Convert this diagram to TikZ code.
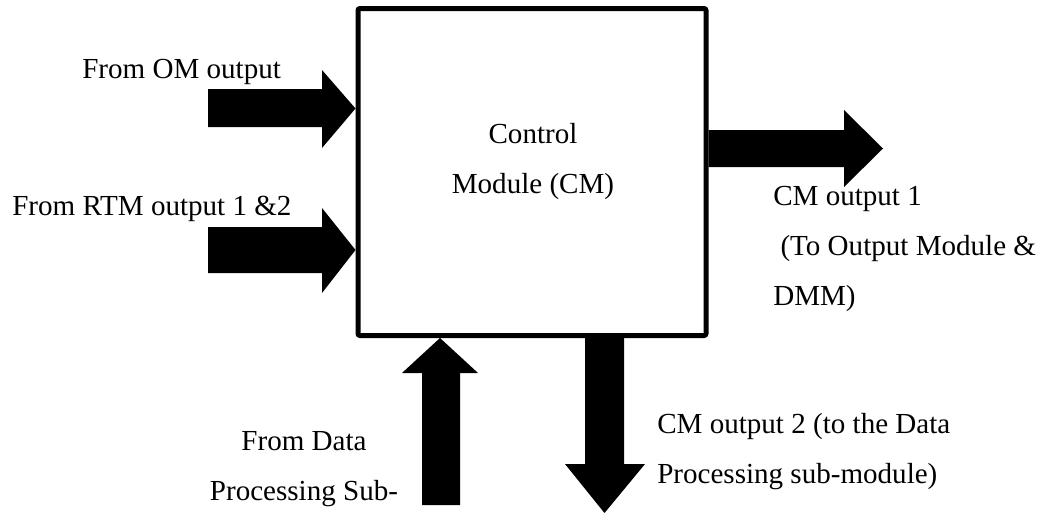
\documentclass[tikz,border=0pt]{standalone}
\usepackage{fontspec}
\setmainfont{Liberation Serif}
\usetikzlibrary{calc}
\usetikzlibrary{positioning}
\tikzset{lbl/.style={inner sep=0pt, align=left, font=\fontsize{21.8}{37.5}\selectfont}}
\tikzset{blockarrow/.style={fill=black}}

\begin{document}
\begin{tikzpicture}[x=0.75pt, y=-0.75pt]
  \useasboundingbox (0,0) rectangle (1047,514);
  \node[draw, line width=3.75pt, rounded corners=1.5pt, minimum width=261pt, minimum height=245.25pt] (cm) at (532,172) {};
  \node[lbl, align=center, anchor=base] (cmtext) at (533,193) {Control\\Module (CM)};

  \node[lbl, anchor=base west] (om) at (82,78) {From OM output};
  \node[lbl, anchor=base west] (rtm) at (12,215) {From RTM output 1 \&2};
  \node[lbl, anchor=base west] (out1) at (773,305) {CM output 1\\\ (To Output Module \&\\DMM)};
  \node[lbl, anchor=base west] (out2) at (657,483) {CM output 2 (to the Data\\Processing sub-module)};
  \node[lbl, align=center, anchor=base] (dps) at (304,500) {From Data\\Processing Sub-};

  % block arrows
  \fill[blockarrow] (208,89) -- (322,89) -- (322,70) -- (cm.west |- 0,108.5) -- (322,148) -- (322,127) -- (208,127) -- cycle;
  \fill[blockarrow] (208,227) -- (322,227) -- (322,208) -- (cm.west |- 0,250) -- (322,293) -- (322,273) -- (208,273) -- cycle;
  \fill[blockarrow] (cm.east |- 0,130) -- (844,130) -- (844,110) -- (883,148.5) -- (844,187) -- (844,167) -- (cm.east |- 0,167) -- cycle;
  \fill[blockarrow] (422,505) -- (422,373) -- (402,373) -- (cm.south -| 440,0) -- (478,373) -- (460,373) -- (460,505) -- cycle;
  \fill[blockarrow] (cm.south -| 585,0) -- (585,464) -- (565,464) -- (604.5,513) -- (645,464) -- (624,464) -- (cm.south -| 624,0) -- cycle;
\end{tikzpicture}
\end{document}
